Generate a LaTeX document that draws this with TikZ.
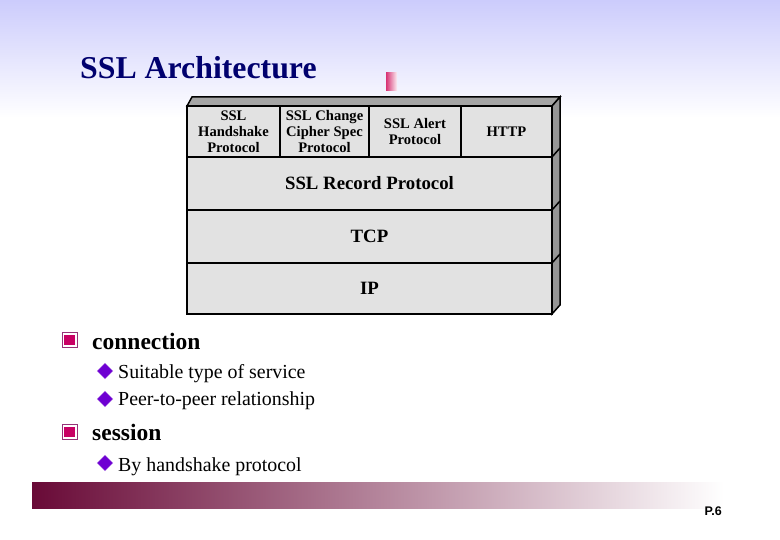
\documentclass[tikz,border=0pt]{standalone}
\usepackage{fontspec}
\setmainfont{Liberation Serif}
\newfontfamily\pagefont{Liberation Sans}
\usetikzlibrary{shapes.geometric}

\definecolor{titleblue}{RGB}{0,0,110}
\definecolor{lav}{RGB}{204,204,252}
\definecolor{boxgray}{RGB}{226,226,226}
\definecolor{topgray}{RGB}{165,165,165}
\definecolor{sidegray}{RGB}{150,150,150}
\definecolor{barmaroon}{RGB}{105,10,55}
\definecolor{barmid}{RGB}{182,168,172}
\definecolor{bulletred}{RGB}{200,0,100}
\definecolor{diapurple}{RGB}{110,0,210}
\definecolor{markpink}{RGB}{215,50,115}

\tikzset{
  layer/.style={draw, line width=1.5pt, fill=boxgray, inner sep=0pt,
    align=center, font=\bfseries\fontsize{18.8}{22}\selectfont},
  cell/.style={layer, minimum width=#1, minimum height=51pt,
    font=\bfseries\fontsize{14.6}{16}\selectfont},
  sqbullet/.style={draw={rgb,255:red,150;green,50;blue,120}, fill=white, minimum size=15pt, inner sep=0pt,
    path picture={\fill[bulletred] ([xshift=2.3pt,yshift=2.3pt]path picture bounding box.south west)
      rectangle ([xshift=-2.3pt,yshift=-2.3pt]path picture bounding box.north east);}},
  dia/.style={diamond, fill=diapurple, draw=diapurple!45!white, inner sep=0pt,
    minimum width=16pt, minimum height=16pt},
  head/.style={anchor=base west, inner sep=0pt, font=\bfseries\fontsize{23.5}{26}\selectfont},
  item/.style={anchor=base west, inner sep=0pt, font=\fontsize{19.9}{22}\selectfont}
}

\begin{document}
\begin{tikzpicture}[x=1pt,y=-1pt]

  \fill[white] (0,0) rectangle (780,540);
  \useasboundingbox (0,0) rectangle (780,540);
  \shade[top color=lav, bottom color=white] (0,0) rectangle (780,118);

  \node[anchor=base west, inner sep=0pt, text=titleblue, font=\bfseries\fontsize{31.8}{34}\selectfont]
    (title) at (80,79) {SSL Architecture};
  \shade[left color=markpink, right color=markpink!8] (386,73) rectangle (397,91);

  \filldraw[fill=topgray, line width=1.5pt] (187,106) -- (192,97) -- (560,97) -- (552,106) -- cycle;
  \filldraw[fill=sidegray, line width=1.5pt] (552,106) -- (560,97) -- (560,305) -- (552,314) -- cycle;
  \foreach \y in {157,210,263}
    \draw[line width=1.5pt] (552,\y) -- (560,\y-9);

  \node[cell=93pt] (hs) at (233.5,131.5) {SSL\\Handshake\\Protocol};
  \node[cell=89pt] (ccs) at (324.5,131.5) {SSL Change\\Cipher Spec\\Protocol};
  \node[cell=92pt] (alert) at (415,131.5) {SSL Alert\\Protocol};
  \node[cell=91pt] (http) at (506.5,131.5) {HTTP};
  \node[layer, minimum width=365pt, minimum height=53pt] (rec) at (369.5,183.5) {SSL Record Protocol};
  \node[layer, minimum width=365pt, minimum height=53pt] (tcp) at (369.5,236.5) {TCP};
  \node[layer, minimum width=365pt, minimum height=51pt] (ip) at (369.5,288.5) {IP};

  \node[sqbullet] (conbul) at (69.5,340) {};
  \node[head] (con) at (92,350) {connection};
  \node[dia] (d1) at (105,371) {};
  \node[item] (suit) at (118,379) {Suitable type of service};
  \node[dia] (d2) at (105,399) {};
  \node[item] (peer) at (118,406) {Peer-to-peer relationship};
  \node[sqbullet] (sesbul) at (69.5,432) {};
  \node[head] (ses) at (92,440) {session};
  \node[dia] (d3) at (105,463) {};
  \node[item] (hand) at (118,471) {By handshake protocol};

  \shade[left color=barmaroon, middle color=barmid, right color=white] (32,482) rectangle (724,508);
  \node[anchor=base east, inner sep=0pt, font=\pagefont\bfseries\fontsize{12.5}{14}\selectfont] (page) at (722,515) {P.6};

\end{tikzpicture}
\end{document}
